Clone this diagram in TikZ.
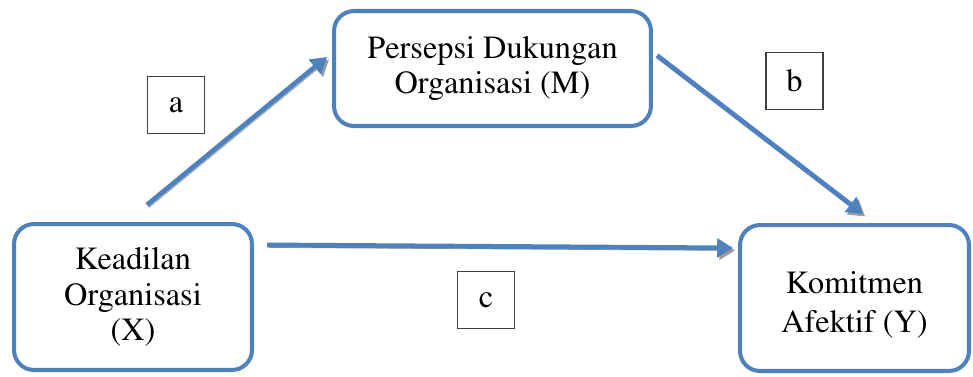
\documentclass[tikz,border=0pt]{standalone}
\usepackage[T1]{fontenc}
\usepackage{times}
\usetikzlibrary{arrows.meta}
\definecolor{boxblue}{HTML}{4F81BD}
\definecolor{shadowgray}{HTML}{9C9C9C}
\begin{document}
\begin{tikzpicture}[x=0.02cm,y=-0.02cm,every path/.style={>={Triangle[length=9pt,width=10.5pt]}},
		varbox/.style={draw=boxblue,line width=2.3pt,rounded corners=0.4cm,fill=white,align=center,inner sep=0pt,font=\fontsize{18.4}{20}\selectfont},
		pathlabel/.style={draw=black!75,line width=0.6pt,minimum size=1.14cm,inner sep=0pt,font=\fontsize{18.4}{20}\selectfont},
		effect/.style={->,draw=boxblue,line width=2.8pt,preaction={draw=shadowgray,transform canvas={shift={(1.2pt,-1.4pt)}}}}]
		\useasboundingbox (0,0) rectangle (973,376);
		
		% draw the three variables
		\node(X) at (133,297) [varbox,minimum width=4.76cm,minimum height=2.92cm] {Keadilan\\Organisasi\\(X)};
		\node(M) at (492.5,68.5) [varbox,minimum width=6.34cm,minimum height=2.30cm] {Persepsi Dukungan\\Organisasi (M)};
		\node(Y) at (854.5,298) [varbox,minimum width=4.58cm,minimum height=2.92cm] {\rule{0pt}{20pt}Komitmen\\[2pt]Afektif (Y)};
		
		% draw path labels
		\node(a) at (176,105) [pathlabel] {a};
		\node(b) at (794.5,81) [pathlabel] {b};
		\node(c) at (486,300) [pathlabel] {c};
		
		% draw arrow from X to M
		\draw[effect] ([shift={(14,-17)}]X.north) to ([shift={(-5,-11.5)}]M.west);
		
		% draw arrow from M to Y
		\draw[effect] ([shift={(4,-13)}]M.east) to ([shift={(8.5,-9)}]Y.north);
		
		% draw arrow from X to Y
		\draw[effect] ([shift={(13,-52)}]X.east) to ([shift={(-5,-50)}]Y.west);
\end{tikzpicture}
\end{document}
